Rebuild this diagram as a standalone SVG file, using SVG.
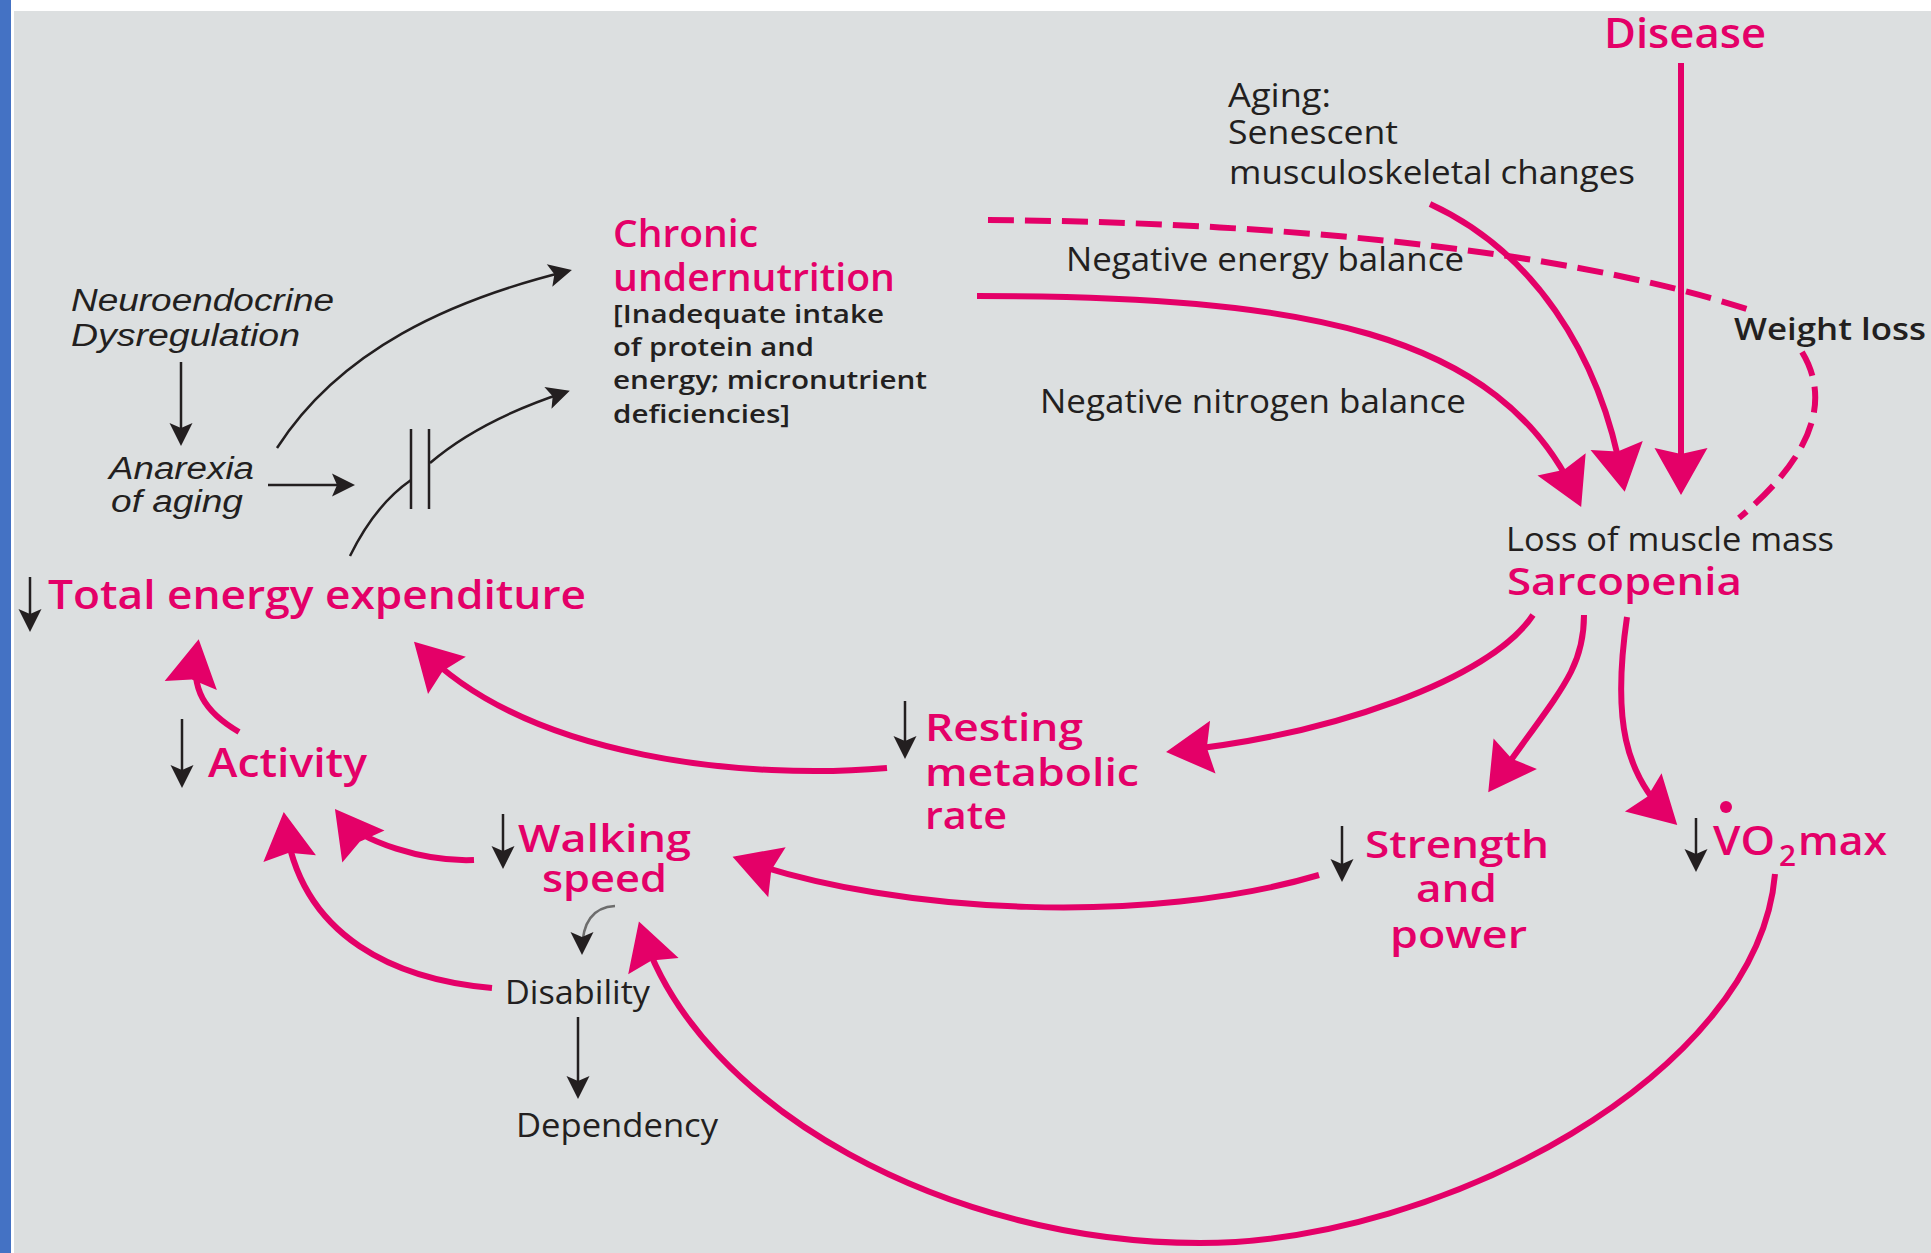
<svg xmlns="http://www.w3.org/2000/svg" width="1931" height="1253" viewBox="0 0 1931 1253">
<style>
.t{font-family:"Open Sans","Liberation Sans",sans-serif;font-size:32px;fill:#231f20}
.tb{font-family:"Open Sans","Liberation Sans",sans-serif;font-weight:600;fill:#231f20}
.ti{font-family:"Liberation Sans","Open Sans",sans-serif;font-style:italic;font-size:31px;fill:#231f20}
.p{font-family:"Open Sans","Liberation Sans",sans-serif;font-weight:600;fill:#e40068}
.pl{fill:none;stroke:#e40068;stroke-width:6}
.bl{fill:none;stroke:#231f20;stroke-width:2.5}
</style>
<defs>
<marker id="ap" markerUnits="userSpaceOnUse" markerWidth="60" markerHeight="60" refX="0" refY="0" orient="auto" overflow="visible">
<path d="M10,0 L-37,-26.5 L-31,0 L-37,26.5 Z" fill="#e40068"/>
</marker>
<marker id="ab" markerUnits="userSpaceOnUse" markerWidth="30" markerHeight="30" refX="0" refY="0" orient="auto" overflow="visible">
<path d="M4,0 L-19,-11.5 L-14,0 L-19,11.5 Z" fill="#231f20"/>
</marker>
</defs>
<rect x="0" y="0" width="1931" height="1253" fill="#ffffff"/>
<rect x="0" y="0" width="11" height="1253" fill="#4472c4"/>
<rect x="14" y="11" width="1917" height="1242" fill="#dcdfe0"/>

<g id="connectors">
<path class="bl" d="M181,362 L181,442" marker-end="url(#ab)"/>
<path class="bl" d="M268,485 L351,485" marker-end="url(#ab)"/>
<path class="bl" d="M411,429 L411,509 M429,429 L429,509"/>
<path class="bl" d="M277,448 C340,350 450,300 568,271" marker-end="url(#ab)"/>
<path class="bl" d="M350,556 Q375,505 411,480"/>
<path class="bl" d="M430,463 Q480,420 566,392" marker-end="url(#ab)"/>
<path class="bl" d="M30,577 L30,628" marker-end="url(#ab)"/>
<path class="bl" d="M182,719 L182,784" marker-end="url(#ab)"/>
<path class="bl" d="M905,701 L905,755" marker-end="url(#ab)"/>
<path class="bl" d="M503,814 L503,865" marker-end="url(#ab)"/>
<path class="bl" d="M1342,826 L1342,878" marker-end="url(#ab)"/>
<path class="bl" d="M1696,818 L1696,868" marker-end="url(#ab)"/>
<path class="bl" d="M578,1017 L578,1095" marker-end="url(#ab)"/>
<path fill="none" stroke="#6d6d6d" stroke-width="2.5" d="M615,906 C596,907 582,918 582,951" marker-end="url(#ab)"/>

<path class="pl" stroke-dasharray="26 11" d="M988,220 C1250,222 1550,245 1750,310"/>
<path class="pl" stroke-dasharray="26 11" d="M1802,352 C1828,395 1820,450 1739,518"/>
<path class="pl" d="M977,296 C1300,296 1500,330 1577,498" marker-end="url(#ap)"/>
<path class="pl" d="M1430,204 C1530,250 1600,350 1623,482" marker-end="url(#ap)"/>
<path class="pl" stroke-width="9" d="M1681,63 L1681,485" marker-end="url(#ap)"/>
<path class="pl" d="M1533,615 C1490,680 1330,735 1176,751" marker-end="url(#ap)"/>
<path class="pl" d="M1584,615 C1584,670 1560,690 1494,784" marker-end="url(#ap)"/>
<path class="pl" d="M1627,617 C1612,720 1625,775 1670,818" marker-end="url(#ap)"/>
<path class="pl" d="M1775,874 C1758,1075 1440,1243 1200,1243 C950,1243 700,1110 642,931" marker-end="url(#ap)"/>
<path class="pl" d="M1319,875 C1150,925 900,915 742,860" marker-end="url(#ap)"/>
<path class="pl" d="M887,768 C750,780 530,760 421,649" marker-end="url(#ap)"/>
<path class="pl" d="M239,732 C205,712 190,690 197,649" marker-end="url(#ap)"/>
<path class="pl" d="M474,860 C425,862 360,842 341,817" marker-end="url(#ap)"/>
<path class="pl" d="M492,988 C400,980 300,940 285,822" marker-end="url(#ap)"/>
</g>

<g id="disease"><text class="p" font-size="41" x="1604" y="48" textLength="162" lengthAdjust="spacingAndGlyphs">Disease</text></g>
<g id="aging">
<text class="t" x="1228" y="107" textLength="103" lengthAdjust="spacingAndGlyphs">Aging:</text>
<text class="t" x="1228" y="144" textLength="170" lengthAdjust="spacingAndGlyphs">Senescent</text>
<text class="t" x="1229" y="184" textLength="406" lengthAdjust="spacingAndGlyphs">musculoskeletal changes</text>
</g>
<g id="neuroendocrine">
<text class="ti" x="71" y="311" textLength="263" lengthAdjust="spacingAndGlyphs">Neuroendocrine</text>
<text class="ti" x="71" y="346" textLength="229" lengthAdjust="spacingAndGlyphs">Dysregulation</text>
</g>
<g id="anarexia">
<text class="ti" x="109" y="479" textLength="145" lengthAdjust="spacingAndGlyphs">Anarexia</text>
<text class="ti" x="111" y="512" textLength="132" lengthAdjust="spacingAndGlyphs">of aging</text>
</g>
<g id="chronic-undernutrition">
<text class="p" font-size="37" x="613" y="247" textLength="145" lengthAdjust="spacingAndGlyphs">Chronic</text>
<text class="p" font-size="37" x="613" y="291" textLength="282" lengthAdjust="spacingAndGlyphs">undernutrition</text>
<text class="tb" font-size="25" x="613" y="323" textLength="271" lengthAdjust="spacingAndGlyphs">[Inadequate intake</text>
<text class="tb" font-size="25" x="613" y="356" textLength="201" lengthAdjust="spacingAndGlyphs">of protein and</text>
<text class="tb" font-size="25" x="613" y="389" textLength="314" lengthAdjust="spacingAndGlyphs">energy; micronutrient</text>
<text class="tb" font-size="25" x="613" y="423" textLength="177" lengthAdjust="spacingAndGlyphs">deficiencies]</text>
</g>
<g id="label-energy"><text class="t" x="1066" y="271" textLength="398" lengthAdjust="spacingAndGlyphs">Negative energy balance</text></g>
<g id="label-nitrogen"><text class="t" x="1040" y="413" textLength="426" lengthAdjust="spacingAndGlyphs">Negative nitrogen balance</text></g>
<g id="label-weight"><text class="tb" font-size="31" x="1734" y="340" textLength="192" lengthAdjust="spacingAndGlyphs">Weight loss</text></g>
<g id="sarcopenia">
<text class="t" x="1506" y="551" textLength="328" lengthAdjust="spacingAndGlyphs">Loss of muscle mass</text>
<text class="p" font-size="37" x="1507" y="595" textLength="235" lengthAdjust="spacingAndGlyphs">Sarcopenia</text>
</g>
<g id="total-energy"><text class="p" font-size="39" x="48" y="609" textLength="538" lengthAdjust="spacingAndGlyphs">Total energy expenditure</text></g>
<g id="activity"><text class="p" font-size="40" x="208" y="777" textLength="159" lengthAdjust="spacingAndGlyphs">Activity</text></g>
<g id="resting">
<text class="p" font-size="37" x="925" y="741" textLength="158" lengthAdjust="spacingAndGlyphs">Resting</text>
<text class="p" font-size="37" x="925" y="786" textLength="214" lengthAdjust="spacingAndGlyphs">metabolic</text>
<text class="p" font-size="37" x="925" y="829" textLength="82" lengthAdjust="spacingAndGlyphs">rate</text>
</g>
<g id="walking">
<text class="p" font-size="37" x="518" y="852" textLength="173" lengthAdjust="spacingAndGlyphs">Walking</text>
<text class="p" font-size="37" x="542" y="892" textLength="125" lengthAdjust="spacingAndGlyphs">speed</text>
</g>
<g id="strength">
<text class="p" font-size="37" x="1365" y="858" textLength="184" lengthAdjust="spacingAndGlyphs">Strength</text>
<text class="p" font-size="37" x="1416" y="902" textLength="81" lengthAdjust="spacingAndGlyphs">and</text>
<text class="p" font-size="37" x="1390" y="948" textLength="137" lengthAdjust="spacingAndGlyphs">power</text>
</g>
<g id="vo2max">
<circle cx="1726" cy="807" r="6" fill="#e40068"/>
<text class="p" font-size="39" x="1713" y="855" textLength="62" lengthAdjust="spacingAndGlyphs">VO</text>
<text class="p" font-size="29" x="1779" y="866" textLength="17" lengthAdjust="spacingAndGlyphs">2</text>
<text class="p" font-size="39" x="1798" y="855" textLength="89" lengthAdjust="spacingAndGlyphs">max</text>
</g>
<g id="disability"><text class="t" font-size="30" x="505" y="1004" textLength="145" lengthAdjust="spacingAndGlyphs">Disability</text></g>
<g id="dependency"><text class="t" font-size="30" x="516" y="1137" textLength="202" lengthAdjust="spacingAndGlyphs">Dependency</text></g>
</svg>
